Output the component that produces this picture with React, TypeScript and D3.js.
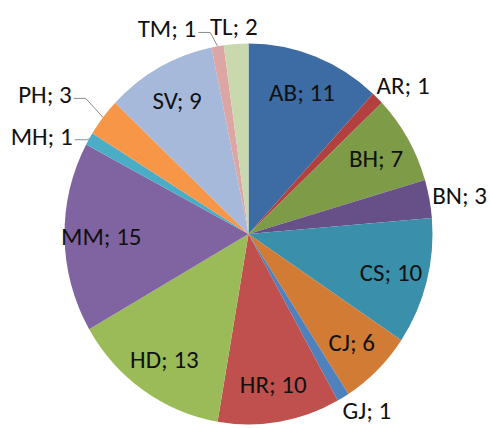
import * as d3 from 'd3'
import { useEffect, useRef } from 'react'

const width = 490
const height = 429
const cx = 248.5
const cy = 234
const rx = 184
const ry = 190.5

const names = ['AB', 'AR', 'BH', 'BN', 'CS', 'CJ', 'GJ', 'HR', 'HD', 'MM', 'MH', 'PH', 'SV', 'TM', 'TL']
const counts = [11, 1, 7, 3, 10, 6, 1, 10, 13, 15, 1, 3, 9, 1, 2]
const colors = [
  '#3d6ba3', '#b2403e', '#7e9c48', '#674f87', '#3a90aa', '#d27b35',
  '#4f81bd', '#c0504d', '#9bbb59', '#8064a2', '#4bacc6', '#f79646',
  '#a7b9da', '#dca6a5', '#c9d8ad',
]

// labels Excel pushed aside so they would not overlap (px)
const labelNudge: Record<string, [number, number]> = {
  TM: [-44, 0],
  MH: [-12, 6],
  PH: [-29, -12],
  GJ: [6, -3],
}

type Slice = { name: string; value: number; color: string }
const slices: Slice[] = names.map((name, i) => ({ name, value: counts[i], color: colors[i] }))

export default function PieChart() {
  const ref = useRef<SVGSVGElement>(null)

  useEffect(() => {
    const svg = d3.select(ref.current)
    svg.selectAll('*').remove()

    const pie = d3.pie<Slice>().value(d => d.value).sort(null)
    const arcs = pie(slices)
    const arc = d3.arc<d3.PieArcDatum<Slice>>().innerRadius(0).outerRadius(rx)

    // the original pie is slightly taller than wide
    svg
      .append('g')
      .attr('transform', `translate(${cx},${cy}) scale(1,${ry / rx})`)
      .selectAll('path')
      .data(arcs)
      .join('path')
      .attr('fill', d => d.data.color)
      .attr('d', arc)

    const onEllipse = (a: number, k: number): [number, number] => [
      cx + k * rx * Math.sin(a),
      cy - k * ry * Math.cos(a),
    ]

    const labels = svg
      .append('g')
      .attr('font-family', 'Calibri, Carlito, Lato, sans-serif')
      .attr('font-size', 25)
      .attr('fill', '#111')
      .attr('text-anchor', 'middle')

    const leaders = svg.append('g').attr('fill', 'none').attr('stroke', '#8c8c8c').attr('stroke-width', 1)

    arcs.forEach(d => {
      const a = (d.startAngle + d.endAngle) / 2
      const text = labels
        .append('text')
        .attr('dy', '0.35em')
        .text(`${d.data.name}; ${d.data.value}`)

      if (d.data.value > 3) {
        const [x, y] = onEllipse(a, 0.8)
        text.attr('x', x).attr('y', y)
        return
      }

      const w = (text.node() as SVGTextElement).getComputedTextLength()
      const p = [cx + (rx + 10) * Math.sin(a), cy - (ry + 10) * Math.cos(a)]
      let x = p[0] + (Math.sin(a) * w) / 2
      let y = p[1] - Math.cos(a) * 8
      x = Math.max(w / 2 + 3, Math.min(width - w / 2 - 3, x))
      const nudge = labelNudge[d.data.name]
      if (nudge) {
        x += nudge[0]
        y += nudge[1]
      }
      // leader line only for labels that ended up left of and away from their slice
      const [ex, ey] = onEllipse(a, 1)
      const sx = x + w / 2 + 2
      if (Math.sin(a) < 0 && ex - sx > 10) {
        const ly = y + 4
        leaders
          .append('path')
          .attr('d', d3.line()([[sx, ly], [Math.min(sx + 12, ex), ly], [ex, ey]]))
      }
      text.attr('x', x).attr('y', y)
    })
  }, [])

  return (
    <svg
      ref={ref}
      width={width}
      height={height}
      viewBox={`0 0 ${width} ${height}`}
      style={{ position: 'absolute', left: 0, top: 0, background: '#fff' }}
    ></svg>
  )
}
